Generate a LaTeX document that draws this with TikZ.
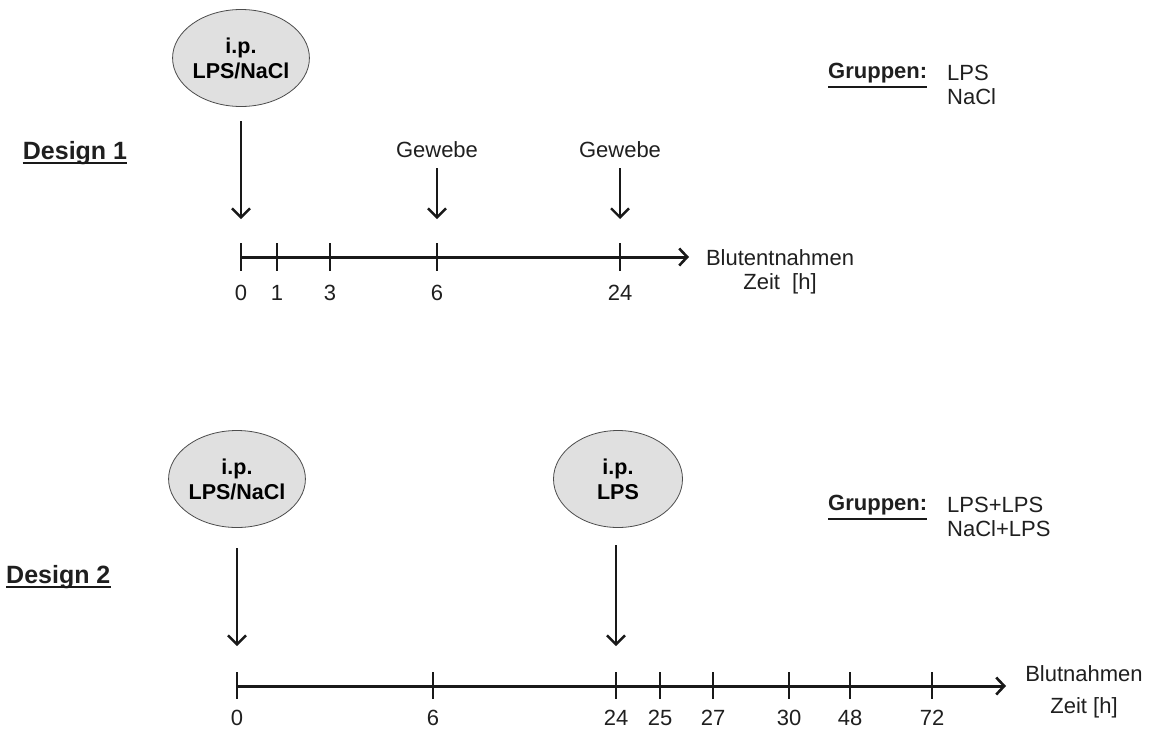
\documentclass[tikz,border=0pt]{standalone}
\usepackage{fontspec}
\setmainfont{Liberation Sans}
\usetikzlibrary{arrows.meta,shapes.geometric}

\tikzset{
  txt/.style={font=\fontsize{22}{25}\selectfont, inner sep=0pt, text=black!88},
  bold/.style={txt, font=\fontsize{22}{25}\selectfont\bfseries},
  title/.style={txt, font=\fontsize{25}{28}\selectfont\bfseries},
  inject/.style={ellipse, draw=black!70, line width=0.8pt, fill=black!12,
    minimum width=129pt, minimum height=97pt, inner sep=0pt,
    align=center, font=\fontsize{21.5}{25}\selectfont\bfseries},
  axis/.style={line width=3pt, black!90, -{Straight Barb[length=8pt,width=17pt,line width=2.6pt]}},
  tick/.style={line width=2.6pt, black!90},
  down/.style={line width=2.6pt, black!90, -{Straight Barb[length=9pt,width=18pt,line width=2.4pt]}},
  uline/.style={line width=2.4pt, black!90}
}

\begin{document}
\begin{tikzpicture}[x=1pt,y=-1pt]
\useasboundingbox (0,0) rectangle (1150,729);

% ---------------- Design 1 ----------------
\node[title, anchor=base] (d1) at (75,159) {Design 1};
\draw[uline] ([yshift=-4pt]d1.base west) -- ([yshift=-4pt]d1.base east);

\node[inject] (e1) at (241,58) {i.p.\\LPS/NaCl};

\node[bold, anchor=west] (g1) at (828,73) {Gruppen:};
\draw[uline] ([yshift=-4pt]g1.south west) -- ([yshift=-4pt]g1.south east);
\node[txt, anchor=west] (g1a) at (947,73) {LPS};
\node[txt, anchor=west] (g1b) at (947,97) {NaCl};

% time axis
\coordinate (a1s) at (241,257);
\coordinate (a1e) at (689,257);
\draw[axis] (a1s) -- (a1e);
\foreach \x/\t/\n in {241/0/a, 277/1/b, 330/3/c, 437/6/d, 620/24/e}{
  \coordinate (t1\n) at (\x,257);
  \draw[tick] (\x,243) -- (\x,271);
  \node[txt] (l1\n) at (\x,293) {\t};
}
\node[txt] (bl1) at (780,258) {Blutentnahmen};
\node[txt] (z1) at (780,284) {Zeit\ \ [h]};

% arrows onto the axis
\coordinate (p1a) at (241,219);
\draw[down] (241,121) -- (p1a);
\node[txt] (gw1) at (437,150) {Gewebe};
\node[txt] (gw2) at (620,150) {Gewebe};
\coordinate (p1d) at (437,219);
\coordinate (p1e) at (620,219);
\draw[down] (437,168) -- (p1d);
\draw[down] (620,168) -- (p1e);

% ---------------- Design 2 ----------------
\node[title, anchor=base west] (d2) at (6,583) {Design 2};
\draw[uline] ([yshift=-4pt]d2.base west) -- ([yshift=-4pt]d2.base east);

\node[inject] (e2) at (237,479) {i.p.\\LPS/NaCl};
\node[inject] (e3) at (618,479) {i.p.\\LPS};

\node[bold, anchor=west] (g2) at (828,505) {Gruppen:};
\draw[uline] ([yshift=-4pt]g2.south west) -- ([yshift=-4pt]g2.south east);
\node[txt, anchor=west] (g2a) at (947,505) {LPS+LPS};
\node[txt, anchor=west] (g2b) at (947,529) {NaCl+LPS};

\coordinate (a2s) at (237,686);
\coordinate (a2e) at (1006,686);
\draw[axis] (a2s) -- (a2e);
\foreach \x/\t/\n in {237/0/a, 433/6/b, 616/24/c, 660/25/d, 713/27/e, 789/30/f, 850/48/g, 932/72/h}{
  \coordinate (t2\n) at (\x,686);
  \draw[tick] (\x,672) -- (\x,699);
  \node[txt] (l2\n) at (\x,718) {\t};
}
\node[txt] (bl2) at (1084,674) {Blutnahmen};
\node[txt] (z2) at (1084,708) {Zeit [h]};

\coordinate (p2a) at (237,646);
\coordinate (p2c) at (616,646);
\draw[down] (237,548) -- (p2a);
\draw[down] (616,545) -- (p2c);
\end{tikzpicture}
\end{document}
